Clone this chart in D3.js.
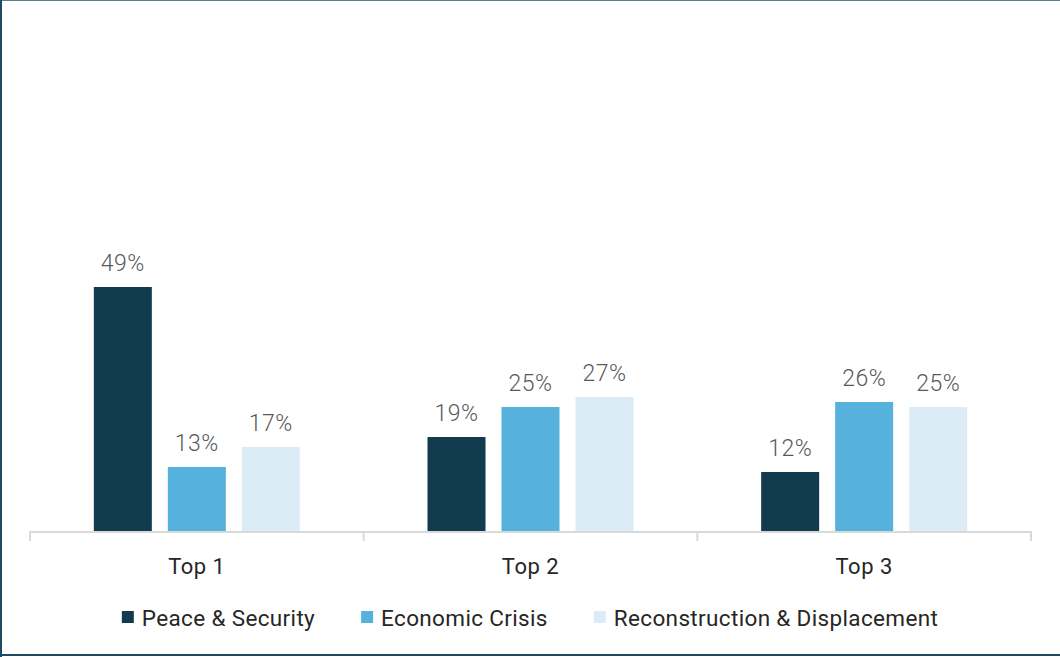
<!DOCTYPE html>
<html>
<head>
<meta charset="utf-8">
<script src="https://cdn.jsdelivr.net/npm/d3@7"></script>
<style>
  html, body { margin: 0; padding: 0; background: #fff; }
  #chart { width: 1060px; height: 657px; position: relative; }
  svg { display: block; font-family: "Roboto", "Inter", sans-serif; }
</style>
</head>
<body>
<div id="chart"></div>
<script>
/* ---------- Data ---------- */
const categories = ["Top 1", "Top 2", "Top 3"];
const seriesNames = ["Peace & Security", "Economic Crisis", "Reconstruction & Displacement"];
const seriesColors = ["#133b4f", "#56b1dd", "#dcecf7"];
const peaceSecurity = [0.49, 0.19, 0.12];
const economicCrisis = [0.13, 0.25, 0.26];
const reconstruction = [0.17, 0.27, 0.25];

const seriesValues = [peaceSecurity, economicCrisis, reconstruction];

/* ---------- Layout ---------- */
const W = 1060, H = 657;
const M = { left: 30, right: 29, top: 232, bottom: 125 };
const baseY = H - M.bottom;

const svg = d3.select("#chart").append("svg")
  .attr("width", W).attr("height", H);

// frame
svg.append("line").attr("x1", 0).attr("x2", W).attr("y1", 0.5).attr("y2", 0.5)
  .attr("stroke", "#5d7d8c").attr("stroke-width", 1);
svg.append("line").attr("x1", 1).attr("x2", 1).attr("y1", 0).attr("y2", H)
  .attr("stroke", "#1d4a5f").attr("stroke-width", 2);
svg.append("line").attr("x1", 0).attr("x2", W).attr("y1", H - 2).attr("y2", H - 2)
  .attr("stroke", "#1d4a5f").attr("stroke-width", 2);

const x0 = d3.scaleBand()
  .domain(categories)
  .range([M.left, W - M.right])
  .paddingInner(0).paddingOuter(0);

const innerW = 206;
const x1 = d3.scaleBand()
  .domain(d3.range(seriesNames.length))
  .range([0, innerW])
  .paddingInner(16 / 74);

const y = d3.scaleLinear()
  .domain([0, 0.6])
  .range([baseY, M.top]);

const fmtPct = d3.format(".0%");

// bars
const groups = svg.append("g").selectAll("g")
  .data(categories)
  .join("g")
  .attr("transform", d => `translate(${x0(d) + (x0.bandwidth() - innerW) / 2},0)`);

groups.selectAll("rect")
  .data((c, ci) => seriesValues.map((s, si) => ({ si, v: s[ci] })))
  .join("rect")
  .attr("x", d => x1(d.si))
  .attr("width", x1.bandwidth())
  .attr("y", d => y(d.v))
  .attr("height", d => baseY - y(d.v))
  .attr("fill", d => seriesColors[d.si]);

groups.selectAll("text")
  .data((c, ci) => seriesValues.map((s, si) => ({ si, v: s[ci] })))
  .join("text")
  .attr("x", d => x1(d.si) + x1.bandwidth() / 2)
  .attr("y", d => y(d.v) - 16)
  .attr("text-anchor", "middle")
  .attr("font-size", 23)
  .attr("font-weight", 300)
  .attr("letter-spacing", 0.5)
  .attr("fill", "#595959")
  .text(d => fmtPct(d.v));

// axis
const axis = svg.append("g")
  .attr("transform", `translate(0,${baseY})`);
axis.append("line")
  .attr("x1", M.left).attr("x2", W - M.right)
  .attr("stroke", "#d9d9d9").attr("stroke-width", 2);
const tickXs = categories.map(c => x0(c)).concat([x0(categories[categories.length - 1]) + x0.bandwidth()]);
axis.selectAll(".tick")
  .data(tickXs)
  .join("line")
  .attr("class", "tick")
  .attr("x1", d => d).attr("x2", d => d)
  .attr("y1", -1).attr("y2", 9)
  .attr("stroke", "#d9d9d9").attr("stroke-width", 2);
axis.selectAll(".cat")
  .data(categories)
  .join("text")
  .attr("class", "cat")
  .attr("x", d => x0(d) + x0.bandwidth() / 2)
  .attr("y", 42)
  .attr("text-anchor", "middle")
  .attr("font-size", 22)
  .attr("letter-spacing", 0.5)
  .attr("fill", "#262626")
  .text(d => d);

// legend
const legend = svg.append("g").attr("transform", `translate(0,617)`);
const items = legend.selectAll("g")
  .data(seriesNames)
  .join("g");
items.append("rect")
  .attr("y", -6).attr("width", 12).attr("height", 12)
  .attr("fill", (d, i) => seriesColors[i]);
items.append("text")
  .attr("x", 20).attr("y", 9)
  .attr("font-size", 22.5)
  .attr("letter-spacing", 0.35)
  .attr("fill", "#262626")
  .text(d => d);

// measure and place legend items centred
let widths = [];
items.each(function() { widths.push(this.getBBox().width); });
const gap = 46;
const total = d3.sum(widths) + gap * (widths.length - 1);
let cx = (W - total) / 2;
items.attr("transform", (d, i) => {
  const t = `translate(${cx},0)`;
  cx += widths[i] + gap;
  return t;
});
</script>
</body>
</html>
